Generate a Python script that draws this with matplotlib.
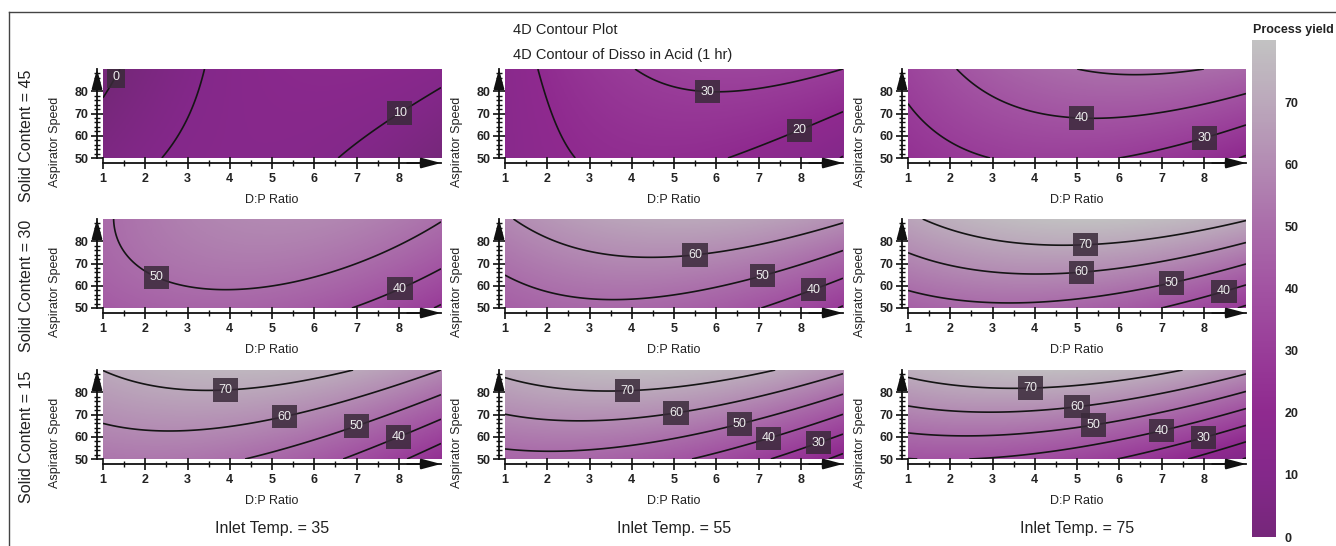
import numpy as np
import matplotlib
matplotlib.use("Agg")
import matplotlib.pyplot as plt
from matplotlib.colors import LinearSegmentedColormap, Normalize
from matplotlib.cm import ScalarMappable
from matplotlib.transforms import ScaledTranslation
from matplotlib.lines import Line2D

plt.rcParams["font.family"] = ["Liberation Sans", "DejaVu Sans"]

# ---- data -------------------------------------------------------------
dp_ratio_pts = [1, 3, 5, 7, 9]          # D:P Ratio sample points
speed_pts = [50, 70, 90]                # Aspirator Speed sample points
solid_contents = [45, 30, 15]           # rows
inlet_temps = [35, 55, 75]              # columns

# Process yield at (speed row, D:P column)
yield_sc45_t35 = [[5.4, 11.3, 12.4, 8.8, 0.4],
                  [1.4, 9.8, 13.5, 12.4, 6.5],
                  [-2.6, 8.4, 14.6, 15.9, 12.5]]
yield_sc45_t55 = [[14.7, 20.7, 21.8, 18.1, 9.6],
                  [14.7, 23.2, 26.8, 25.6, 19.6],
                  [15.2, 26.1, 32.2, 33.5, 30.0]]
yield_sc45_t75 = [[24.2, 30.1, 31.2, 27.6, 19.1],
                  [29.0, 37.4, 40.9, 39.7, 33.7],
                  [33.2, 44.0, 50.0, 51.2, 47.6]]
yield_sc30_t35 = [[42.6, 46.4, 45.4, 39.6, 28.9],
                  [47.3, 53.0, 53.9, 50.0, 41.3],
                  [48.8, 56.4, 59.2, 57.3, 50.5]]
yield_sc30_t55 = [[44.7, 48.0, 46.6, 40.3, 29.2],
                  [51.9, 57.4, 58.2, 54.2, 45.3],
                  [59.0, 66.8, 69.8, 68.0, 61.4]]
yield_sc30_t75 = [[45.1, 48.2, 46.5, 40.0, 28.7],
                  [57.2, 62.7, 63.3, 59.2, 50.2],
                  [68.3, 76.1, 79.1, 77.3, 70.7]]
yield_sc15_t35 = [[53.0, 52.9, 47.9, 38.1, 23.6],
                  [61.7, 64.0, 61.4, 54.1, 41.9],
                  [70.1, 74.8, 74.6, 69.7, 60.0]]
yield_sc15_t55 = [[47.0, 46.8, 41.7, 31.8, 17.2],
                  [59.9, 62.1, 59.5, 52.1, 39.9],
                  [72.0, 76.7, 76.5, 71.5, 61.8]]
yield_sc15_t75 = [[39.8, 39.4, 34.2, 24.2, 9.3],
                  [56.9, 59.0, 56.3, 48.8, 36.5],
                  [72.5, 77.1, 77.0, 72.0, 62.2]]

panel_yields = [
    [yield_sc45_t35, yield_sc45_t55, yield_sc45_t75],
    [yield_sc30_t35, yield_sc30_t55, yield_sc30_t75],
    [yield_sc15_t35, yield_sc15_t55, yield_sc15_t75],
]

contour_levels = [0, 10, 20, 30, 40, 50, 60, 70]
cbar_ticks = [0, 10, 20, 30, 40, 50, 60, 70]

# where the contour labels sit on each panel
label_spots = [
    [[(1.35, 86), (8.0, 71)],
     [(5.8, 80), (8.0, 61)],
     [(5.1, 68), (8.0, 60)]],
    [[(2.3, 65), (8.0, 60)],
     [(5.5, 73.5), (7.1, 64), (8.3, 58)],
     [(5.2, 78), (5.1, 65.5), (7.25, 59.5), (8.5, 56)]],
    [[(3.9, 81), (5.3, 69), (7.0, 64.5), (8.0, 60)],
     [(3.9, 80.5), (5.05, 70.7), (6.56, 65.7), (7.25, 59), (8.43, 57)],
     [(3.9, 81), (5.0, 73.5), (5.4, 65.3), (7.0, 62.7), (8.0, 59.3)]],
]

# ---- helpers ----------------------------------------------------------
W, H = 1336, 546
fig = plt.figure(figsize=(W / 100, H / 100), dpi=100)


def rect(left, top, width, height):
    return [left / W, 1 - (top + height) / H, width / W, height / H]


cmap = LinearSegmentedColormap.from_list(
    "yield",
    [(0.0, "#76277a"), (0.125, "#84288a"), (0.25, "#8f2a8f"), (0.375, "#993d99"),
     (0.5, "#a253a2"), (0.625, "#aa6daa"), (0.75, "#b38bb3"), (0.875, "#bba8bb"),
     (1.0, "#c2c2c2")])
norm = Normalize(vmin=0, vmax=80)


def response_surface(values):
    """Quadratic response surface through the sampled yields."""
    gx, gy = np.meshgrid(dp_ratio_pts, speed_pts)
    gx, gy, z = gx.ravel(), gy.ravel(), np.asarray(values, float).ravel()
    A = np.column_stack([np.ones_like(gx), gx, gy, gx ** 2, gy ** 2, gx * gy])
    coef, *_ = np.linalg.lstsq(A, z, rcond=None)
    fx, fy = np.meshgrid(np.linspace(1, 9, 241), np.linspace(50, 90, 121))
    B = np.stack([np.ones_like(fx), fx, fy, fx ** 2, fy ** 2, fx * fy])
    return fx, fy, np.tensordot(coef, B, axes=1)


col_left = [103, 505, 908]
row_top = [69, 219, 370]
pw, ph = 338, 89
px = 1 / 100  # one pixel in inches

for r in range(3):
    for c in range(3):
        ax = fig.add_axes(rect(col_left[c], row_top[r], pw, ph))
        fx, fy, fz = response_surface(panel_yields[r][c])
        ax.imshow(fz, extent=[1, 9, 50, 90], origin="lower", aspect="auto",
                  cmap=cmap, norm=norm, interpolation="bilinear")
        cs = ax.contour(fx, fy, fz, levels=contour_levels, colors="#151515",
                        linewidths=1.2)
        texts = ax.clabel(cs, fmt="%d", fontsize=9, inline=False,
                          manual=label_spots[r][c], colors="#ededed")
        for t in texts:
            t.set_rotation(0)
            t.set_bbox(dict(boxstyle="square,pad=0.45", fc="#3a2a3a",
                            ec="none", alpha=0.85))
        ax.set_xlim(1, 9)
        ax.set_ylim(50, 90)

        for s in ("top", "right"):
            ax.spines[s].set_visible(False)
        ax.spines["bottom"].set_position(("outward", 3.6))
        ax.spines["left"].set_position(("outward", 4.3))
        for s in ("bottom", "left"):
            ax.spines[s].set_linewidth(1.3)
            ax.spines[s].set_color("#111111")

        ax.set_xticks(range(1, 9))
        ax.set_xticks(np.arange(1.5, 9, 1.0), minor=True)
        ax.set_yticks([50, 60, 70, 80])
        ax.set_yticks(np.arange(50, 90, 2), minor=True)
        ax.tick_params(which="major", direction="inout", length=8, width=1.2,
                       color="#111111", labelsize=9, labelcolor="#222222")
        ax.tick_params(which="minor", direction="inout", length=5, width=1.0,
                       color="#111111")
        ax.tick_params(axis="x", pad=3)
        ax.tick_params(axis="y", pad=2)
        for lab in ax.get_xticklabels() + ax.get_yticklabels():
            lab.set_fontweight("bold")

        # arrow heads at the ends of both axes
        tb = ax.transAxes + ScaledTranslation(0, -5 * px, fig.dpi_scale_trans)
        tl = ax.transAxes + ScaledTranslation(-6 * px, 0, fig.dpi_scale_trans)
        arrow = dict(arrowstyle="-|>,head_length=1.2,head_width=0.32",
                     color="#111111", lw=1.3, shrinkA=0, shrinkB=0)
        ax.annotate("", xy=(1.0, 0), xycoords=tb, xytext=(0.9, 0),
                    textcoords=tb, arrowprops=arrow, annotation_clip=False)
        ax.annotate("", xy=(0, 1.0), xycoords=tl, xytext=(0, 0.85),
                    textcoords=tl, arrowprops=arrow, annotation_clip=False)

        bottom = row_top[r] + ph
        cx = col_left[c] + pw / 2
        fig.text(cx / W, 1 - (bottom + 42) / H, "D:P Ratio", ha="center",
                 va="center", fontsize=9, color="#222222")
        fig.text((col_left[c] - 48) / W, 1 - (bottom - 16) / H,
                 "Aspirator Speed", ha="center", va="center", rotation=90,
                 fontsize=9, color="#222222")

# row and column factor captions
for r, sc in enumerate(solid_contents):
    fig.text(27 / W, 1 - (row_top[r] + ph - 22) / H, f"Solid Content = {sc}",
             rotation=90, ha="center", va="center", fontsize=11.5,
             color="#222222")
for c, tmp in enumerate(inlet_temps):
    fig.text((col_left[c] + pw / 2) / W, 1 - 529 / H, f"Inlet Temp. = {tmp}",
             ha="center", va="center", fontsize=11.5, color="#222222")

fig.text(513 / W, 1 - 30 / H, "4D Contour Plot", ha="left", va="center",
         fontsize=10.5, color="#222222")
fig.text(513 / W, 1 - 55 / H, "4D Contour of Disso in Acid (1 hr)",
         ha="left", va="center", fontsize=10.5, color="#222222")

# colour bar
cax = fig.add_axes(rect(1252, 40, 24, 497))
cb = fig.colorbar(ScalarMappable(norm=norm, cmap=cmap), cax=cax,
                  ticks=cbar_ticks)
cb.outline.set_visible(False)
cax.tick_params(length=0, pad=6, labelsize=9, labelcolor="#222222")
for lab in cax.get_yticklabels():
    lab.set_fontweight("bold")
fig.text(1253 / W, 1 - 30 / H, "Process yield", ha="left", va="center",
         fontsize=9, fontweight="bold", color="#222222")

# frame lines along the top and left
fig.add_artist(Line2D([9 / W, 1], [1 - 12 / H, 1 - 12 / H], color="#444444",
                      lw=1.0, transform=fig.transFigure))
fig.add_artist(Line2D([9 / W, 9 / W], [1 - 12 / H, 0], color="#444444",
                      lw=1.0, transform=fig.transFigure))

fig.savefig("out.png", dpi=100)
